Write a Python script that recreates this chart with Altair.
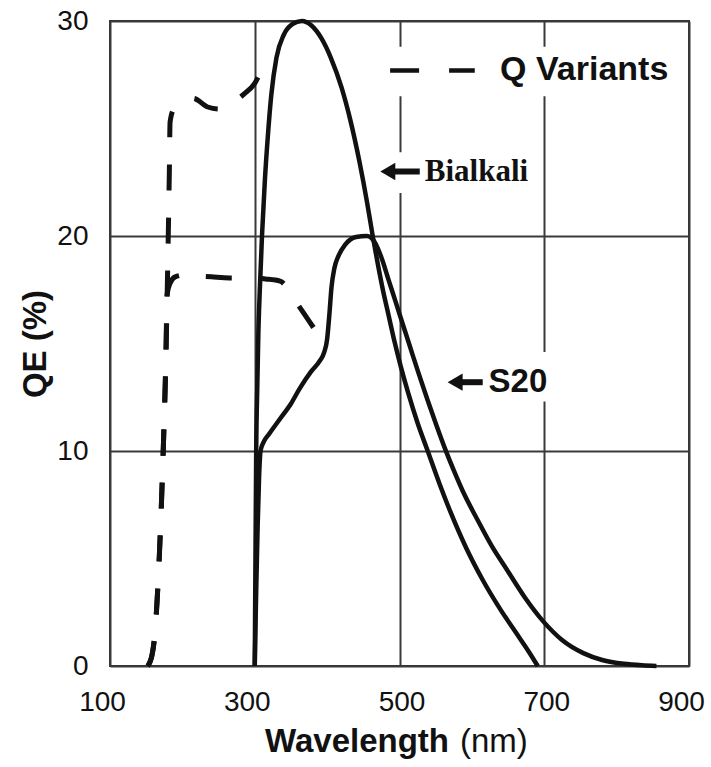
import altair as alt
import pandas as pd

# Quantum efficiency curves (wavelength in nm, QE in %)
bialkali_wl = [300, 301, 302, 303.5, 305, 307, 310, 314, 318, 323, 330, 340, 352, 365, 378, 392,
               405, 420, 432, 445, 455, 463, 470, 477, 485, 493, 502, 512, 525, 539, 555, 570,
               592, 615, 640, 662, 678, 691]
bialkali_qe = [0, 5, 10, 13, 15.5, 17.5, 20, 22.6, 24.6, 26.6, 28.3, 29.35, 29.85, 30, 29.8, 29.2,
               28.3, 26.9, 25.4, 23.4, 21.6, 20.0, 18.7, 17.5, 16.3, 15.1, 13.9, 12.7, 11.3, 10.0,
               8.5, 7.2, 5.5, 4.0, 2.6, 1.5, 0.7, 0]

s20_wl = [300, 302, 304, 306, 308, 312, 320, 335, 350, 362, 378, 390, 396, 400, 403, 406, 410,
          416, 425, 440, 455, 465, 475, 485, 495, 505, 515, 527, 539, 551, 563, 575, 590, 607,
          628, 648, 673, 698, 725, 754, 780, 810, 835, 855]
s20_qe = [0, 3.5, 6.5, 8.8, 10, 10.4, 10.8, 11.5, 12.2, 12.9, 13.7, 14.2, 14.6, 15.2, 16.3, 17.6,
          18.5, 19.1, 19.6, 19.95, 20, 19.75, 19.0, 17.95, 16.9, 15.85, 14.8, 13.55, 12.35, 11.2,
          10.1, 9.1, 7.95, 6.85, 5.55, 4.5, 3.2, 2.1, 1.2, 0.6, 0.28, 0.1, 0.03, 0]

# Q (quartz window) variants extend the response into the UV
q_bialkali_wl = [152, 158, 162, 165, 168, 171, 174, 177, 179, 180.5, 182, 183, 188, 199, 215, 235,
                 252, 270, 285, 300, 312, 321]
q_bialkali_qe = [0, 0.5, 1.5, 3, 5, 7.5, 10.5, 14, 17.3, 20, 23, 25.3, 25.9, 26.2, 26.4, 26.0,
                 25.9, 26.2, 26.6, 27.1, 27.9, 28.4]

q_s20_wl = [152, 158, 162, 165, 168, 171, 174, 177, 179, 183, 190, 205, 217, 240, 265, 290, 315,
            335, 347, 358, 370, 382, 392, 399]
q_s20_qe = [0, 0.5, 1.5, 3, 5, 7.5, 10.5, 14, 17.3, 17.8, 18.1, 18.2, 18.15, 18.1, 18.05, 18.05,
            18.0, 17.9, 17.5, 16.9, 16.3, 15.7, 15.2, 14.7]

x_ticks = [100, 300, 500, 700, 900]
y_ticks = [0, 10, 20, 30]

# Curve labels with arrows
label_text = ["Bialkali", "S20"]
label_wl = [535, 623]
label_qe = [23.0, 13.2]
arrow_tip_wl = [470, 563]
arrow_tail_wl = [528, 615]

# Dashed-line key
key_text = "Q Variants"
key_dash_wl = [487, 604]
key_qe = 27.7
key_text_wl = 639

# White backing behind the annotations
box_wl = [476, 556, 481]
box_wl2 = [690, 722, 896]
box_qe = [22.0, 12.3, 26.5]
box_qe2 = [23.9, 14.6, 28.8]


def frame(name, wl, qe):
    return pd.DataFrame({"series": name, "wl": wl, "qe": qe, "i": range(len(wl))})


solid = pd.concat([frame("Bialkali", bialkali_wl, bialkali_qe), frame("S20", s20_wl, s20_qe)])
dashed = pd.concat([frame("Q Bialkali", q_bialkali_wl, q_bialkali_qe),
                    frame("Q S20", q_s20_wl, q_s20_qe)])

x_scale = alt.Scale(domain=[100, 900], nice=False, zero=False)
y_scale = alt.Scale(domain=[0, 30], nice=False)

x_enc = alt.X("wl:Q", scale=x_scale,
              axis=alt.Axis(values=x_ticks, title=None, labelPadding=22, labelFlush=False,
                            labelOffset={"condition": {"test": "datum.value == 500 || datum.value == 700",
                                                       "value": 2},
                                         "value": -8}))
y_enc = alt.Y("qe:Q", scale=y_scale,
              axis=alt.Axis(values=y_ticks, title="QE (%)", labelPadding=22,
                            titleFontSize=33, titleFontWeight="bold", titleFont="Liberation Sans",
                            titleColor="#111", titleX=-58))

boxes = alt.Chart(pd.DataFrame({"wl": box_wl, "wl2": box_wl2, "qe": box_qe, "qe2": box_qe2})).mark_rect(
    color="white").encode(x=x_enc, x2="wl2:Q", y=y_enc, y2="qe2:Q")

solid_lines = alt.Chart(solid).mark_line(
    color="#111", strokeWidth=4.5, interpolate="monotone").encode(
    x="wl:Q", y="qe:Q", detail="series:N", order="i:Q")

dashed_lines = alt.Chart(dashed).mark_line(
    color="#111", strokeWidth=5, strokeDash=[26, 27], interpolate="monotone").encode(
    x="wl:Q", y="qe:Q", detail="series:N", order="i:Q")

key_line = alt.Chart(pd.DataFrame({"wl": key_dash_wl, "qe": [key_qe, key_qe]})).mark_line(
    color="#111", strokeWidth=4.5, strokeDash=[29, 30]).encode(x="wl:Q", y="qe:Q")

key_label = alt.Chart(pd.DataFrame({"wl": [key_text_wl], "qe": [key_qe], "t": [key_text]})).mark_text(
    font="Liberation Sans", fontSize=34, fontWeight="bold", color="#111", align="left",
    baseline="middle").encode(x="wl:Q", y="qe:Q", text="t:N")

arrows = pd.DataFrame({"wl": arrow_tip_wl, "wl2": arrow_tail_wl, "qe": label_qe})
arrow_shafts = alt.Chart(arrows).mark_rule(
    color="#111", strokeWidth=6, xOffset=12, x2Offset=0).encode(x="wl:Q", x2="wl2:Q", y="qe:Q")
arrow_heads = alt.Chart(arrows).mark_point(
    shape="triangle-left", size=300, filled=True, color="#111", opacity=1, xOffset=10).encode(
    x="wl:Q", y="qe:Q")

labels = pd.DataFrame({"wl": label_wl, "qe": label_qe, "t": label_text})
bialkali_label = alt.Chart(labels.iloc[[0]]).mark_text(
    font="Liberation Serif", fontSize=31, fontWeight="bold", color="#111", align="left",
    baseline="middle").encode(x="wl:Q", y="qe:Q", text="t:N")
s20_label = alt.Chart(labels.iloc[[1]]).mark_text(
    font="Liberation Sans", fontSize=33, fontWeight="bold", color="#111", align="left",
    baseline="middle").encode(x="wl:Q", y="qe:Q", text="t:N")

# Axis title set in two weights
x_title = alt.Chart(pd.DataFrame({"t": ["Wavelength"]})).mark_text(
    font="Liberation Sans", fontSize=33, fontWeight="bold", color="#111", align="left",
    baseline="alphabetic").encode(x=alt.value(155), y=alt.value(731), text="t:N")
x_unit = alt.Chart(pd.DataFrame({"t": ["(nm)"]})).mark_text(
    font="Liberation Sans", fontSize=33, color="#111", align="left",
    baseline="alphabetic").encode(x=alt.value(350), y=alt.value(731), text="t:N")

chart = alt.layer(
    boxes, solid_lines, dashed_lines, key_line, key_label, arrow_shafts, arrow_heads,
    bialkali_label, s20_label, x_title, x_unit
).properties(
    width=579, height=645,
    padding={"left": 110, "top": 21, "right": 22, "bottom": 101},
    autosize=alt.AutoSizeParams(type="none"),
    background="white",
).configure_view(
    stroke="#333", strokeWidth=2
).configure_axis(
    grid=True, gridColor="#3a3a3a", gridWidth=2, gridOpacity=1,
    domain=False, ticks=False, tickSize=0,
    labelFont="Liberation Sans", labelFontSize=28, labelColor="#111",
)

chart.save("out.html", embed_options={"renderer": "svg", "actions": False})
